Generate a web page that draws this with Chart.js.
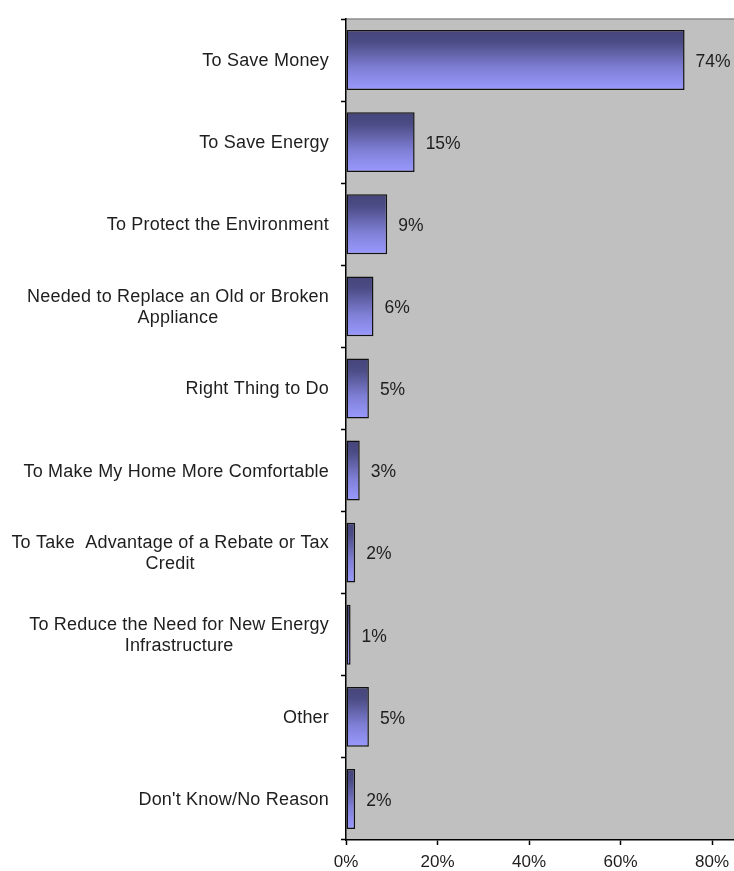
<!DOCTYPE html>
<html>
<head>
<meta charset="utf-8">
<script src="https://cdn.jsdelivr.net/npm/chart.js@4/dist/chart.umd.min.js"></script>
<style>
  html, body { margin: 0; padding: 0; background: #fff; }
  canvas { display: block; }
</style>
</head>
<body>
<canvas id="reasonChart" width="734" height="871"></canvas>
<script>
// ---------- DATA ----------
const categories = [
  ["To Save Money"],
  ["To Save Energy"],
  ["To Protect the Environment"],
  ["Needed to Replace an Old or Broken", "Appliance"],
  ["Right Thing to Do"],
  ["To Make My Home More Comfortable"],
  ["To Take  Advantage of a Rebate or Tax", "Credit"],
  ["To Reduce the Need for New Energy", "Infrastructure"],
  ["Other"],
  ["Don't Know/No Reason"],
];
const percentValues = [74, 15, 9, 6, 5, 3, 2, 1, 5, 2];
const xTicks = [0, 20, 40, 60, 80];
const X_MAX = 84.8; // plot is cut off past 80%

// ---------- SETTINGS ----------
const FONT = "'Liberation Sans', Arial, sans-serif";
const TEXT_COLOR = "#1e1e1e";
const BAR_PCT = 0.73;

// ---------- BAR GRADIENT ----------
function barFill(context) {
  const chart = context.chart;
  const area = chart.chartArea;
  if (!area) return "#7070c0";
  const yCenter = chart.scales.y.getPixelForValue(context.dataIndex);
  const h = ((area.bottom - area.top) / categories.length) * BAR_PCT;
  const g = chart.ctx.createLinearGradient(0, yCenter - h / 2, 0, yCenter + h / 2);
  g.addColorStop(0, "#45457a");
  g.addColorStop(0.2, "#4c4c86");
  g.addColorStop(0.65, "#8080d8");
  g.addColorStop(1, "#9a9aff");
  return g;
}

// ---------- PLOT BACKGROUND ----------
const plotBackground = {
  id: "plotBackground",
  beforeDraw(chart) {
    const { ctx, chartArea } = chart;
    ctx.save();
    ctx.fillStyle = "#c0c0c0";
    ctx.fillRect(chartArea.left, chartArea.top, chartArea.right - chartArea.left, chartArea.bottom - chartArea.top);
    ctx.strokeStyle = "#8c8c8c";
    ctx.lineWidth = 1.5;
    ctx.beginPath();
    ctx.moveTo(chartArea.left, chartArea.top);
    ctx.lineTo(chartArea.right, chartArea.top);
    ctx.stroke();
    ctx.restore();
  },
};

// ---------- CATEGORY LABELS (centered lines, right-aligned block) ----------
const categoryLabels = {
  id: "categoryLabels",
  afterDraw(chart) {
    const { ctx, chartArea } = chart;
    const yScale = chart.scales.y;
    ctx.save();
    ctx.font = "18px " + FONT;
    ctx.letterSpacing = "0.2px";
    ctx.fillStyle = TEXT_COLOR;
    ctx.textAlign = "center";
    ctx.textBaseline = "middle";
    const right = chartArea.left - 17;
    const lineH = 21;
    categories.forEach((lines, i) => {
      const w = Math.max(...lines.map((l) => ctx.measureText(l).width));
      const cx = right - w / 2;
      const cy = yScale.getPixelForValue(i) + 1;
      lines.forEach((l, k) => {
        ctx.fillText(l, cx, cy + (k - (lines.length - 1) / 2) * lineH);
      });
    });
    ctx.restore();
  },
};

// ---------- VALUE LABELS ----------
const valueLabels = {
  id: "valueLabels",
  afterDatasetsDraw(chart) {
    const { ctx } = chart;
    const meta = chart.getDatasetMeta(0);
    ctx.save();
    ctx.font = "17.5px " + FONT;
    ctx.fillStyle = TEXT_COLOR;
    ctx.textAlign = "left";
    ctx.textBaseline = "middle";
    meta.data.forEach((bar, i) => {
      ctx.fillText(percentValues[i] + "%", bar.x + 11, bar.y + 2);
    });
    ctx.restore();
  },
};

// ---------- CREATE CHART ----------
const ctx = document.getElementById("reasonChart").getContext("2d");

const reasonChart = new Chart(ctx, {
  type: "bar",
  data: {
    labels: categories.map((c) => c.join(" ")),
    datasets: [
      {
        data: percentValues,
        backgroundColor: barFill,
        borderColor: "#111111",
        borderWidth: 1.5,
        borderSkipped: false,
        barPercentage: BAR_PCT,
        categoryPercentage: 1,
      },
    ],
  },
  options: {
    indexAxis: "y",
    responsive: false,
    animation: false,
    layout: {
      padding: { top: 19, right: 0, bottom: 0, left: 0 },
    },
    scales: {
      y: {
        type: "category",
        offset: true,
        ticks: { display: false },
        grid: {
          offset: true,
          drawOnChartArea: false,
          drawTicks: true,
          tickLength: 5,
          tickColor: "#000",
          tickWidth: 1.5,
        },
        border: { color: "#000", width: 1.5 },
        afterFit(scale) {
          scale.width = 346;
        },
      },
      x: {
        min: 0,
        max: X_MAX,
        afterBuildTicks(scale) {
          scale.ticks = xTicks.map((v) => ({ value: v }));
        },
        ticks: {
          color: TEXT_COLOR,
          padding: 7,
          font: { family: FONT, size: 17 },
          callback: (v) => v + "%",
        },
        grid: {
          drawOnChartArea: false,
          drawTicks: true,
          tickLength: 5,
          tickColor: "#000",
          tickWidth: 1.5,
        },
        border: { color: "#000", width: 1.5 },
        afterFit(scale) {
          scale.height = 31;
          scale.paddingRight = 0;
          scale.paddingLeft = 0;
        },
      },
    },
    plugins: {
      legend: { display: false },
      tooltip: { enabled: false },
      title: { display: false },
    },
  },
  plugins: [plotBackground, categoryLabels, valueLabels],
});
</script>
</body>
</html>
